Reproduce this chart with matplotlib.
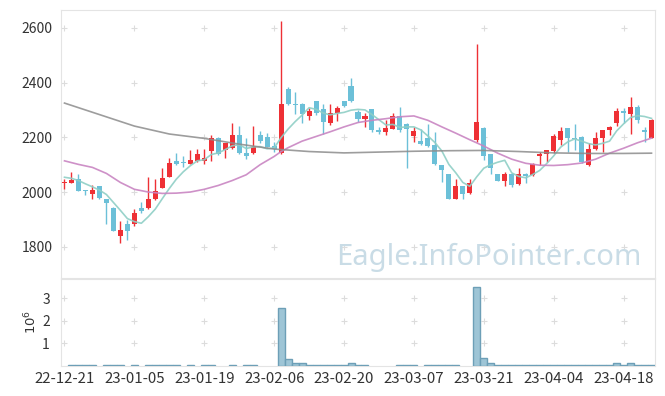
import numpy as np
import matplotlib.pyplot as plt

plt.rcParams['font.family'] = ['Noto Sans CJK KR', 'DejaVu Sans']

# daily prices (trading days 22-12-21 .. 23-04-24)
opens = [2032, 2034, 2048, 2008, 1993, 2022, 1975, 1942, 1841, 1883,
         1882, 1941, 1941, 1975, 2016, 2056, 2114, 2110, 2104, 2115,
         2114, 2151, 2198, 2155, 2160, 2209, 2144, 2142, 2209, 2202,
         2169, 2142, 2377, 2322, 2321, 2279, 2333, 2304, 2252, 2287,
         2333, 2386, 2292, 2268, 2304, 2227, 2220, 2232, 2278, 2249,
         2206, 2187, 2197, 2172, 2099, 2066, 1975, 2022, 1996, 2191,
         2233, 2139, 2066, 2041, 2066, 2029, 2066, 2063, 2130, 2139,
         2150, 2191, 2233, 2199, 2200, 2097, 2158, 2197, 2225, 2254,
         2297, 2286, 2310, 2227, 2199]
highs = [2047, 2072, 2065, 2008, 2026, 2022, 1975, 1944, 1895, 1898,
         1937, 1962, 2056, 2047, 2087, 2124, 2142, 2132, 2154, 2156,
         2156, 2208, 2200, 2180, 2252, 2242, 2199, 2242, 2223, 2215,
         2184, 2626, 2382, 2365, 2325, 2306, 2334, 2321, 2321, 2316,
         2334, 2416, 2300, 2288, 2305, 2237, 2264, 2290, 2310, 2252,
         2237, 2230, 2248, 2221, 2100, 2067, 2047, 2022, 2047, 2540,
         2236, 2140, 2067, 2073, 2069, 2087, 2069, 2105, 2148, 2155,
         2211, 2239, 2234, 2248, 2203, 2178, 2219, 2228, 2242, 2306,
         2306, 2347, 2317, 2239, 2265]
lows = [2011, 2032, 2002, 1990, 1974, 1976, 1883, 1857, 1813, 1825,
        1876, 1925, 1937, 1971, 2014, 2054, 2097, 2090, 2102, 2111,
        2103, 2113, 2137, 2124, 2158, 2139, 2120, 2139, 2178, 2164,
        2148, 2138, 2318, 2284, 2252, 2263, 2282, 2212, 2245, 2260,
        2312, 2328, 2255, 2239, 2221, 2211, 2210, 2230, 2221, 2087,
        2182, 2173, 2166, 2100, 2035, 1973, 1973, 1974, 1992, 2181,
        2117, 2066, 2040, 2022, 2018, 2026, 2034, 2059, 2099, 2111,
        2142, 2172, 2148, 2154, 2105, 2096, 2154, 2148, 2209, 2242,
        2254, 2211, 2252, 2184, 2197]
closes = [2038, 2044, 2004, 2002, 2009, 1978, 1961, 1858, 1861, 1859,
          1922, 1932, 1974, 2004, 2050, 2105, 2103, 2106, 2117, 2139,
          2124, 2198, 2138, 2178, 2209, 2142, 2130, 2166, 2185, 2166,
          2158, 2321, 2321, 2319, 2284, 2297, 2288, 2255, 2288, 2306,
          2316, 2331, 2267, 2278, 2225, 2220, 2234, 2278, 2225, 2232,
          2223, 2176, 2169, 2103, 2081, 1975, 2022, 1993, 2032, 2257,
          2130, 2087, 2041, 2066, 2026, 2066, 2059, 2103, 2139, 2154,
          2203, 2223, 2197, 2194, 2111, 2158, 2199, 2227, 2236, 2297,
          2288, 2310, 2262, 2221, 2264]

# volume in units of 10^6
volume = [0, .03, .03, .03, .03, 0, .06, .03, .03, 0,
          .03, 0, .03, .03, .03, .03, .03, 0, .03, 0,
          .03, .03, 0, 0, .06, 0, .03, .06, 0, 0,
          0, 2.55, .32, .12, .12, .06, .03, .06, .03, .03,
          .03, .15, .03, .03, 0, 0, 0, 0, .03, .03,
          .03, 0, .03, .03, .03, .03, .03, 0, 0, 3.5,
          .37, .15, .06, .06, .03, .03, .03, .03, .06, .06,
          .06, .06, .03, .03, .06, .03, .03, .03, .03, .15,
          .06, .15, .06, .06, .06]

# moving averages
ma5 = [2054, 2050, 2042, 2030, 2019, 2007, 1991, 1962, 1933, 1903,
       1892, 1886, 1910, 1938, 1976, 2013, 2047, 2074, 2096, 2114,
       2118, 2137, 2143, 2155, 2169, 2173, 2159, 2165, 2166, 2158,
       2161, 2199, 2230, 2257, 2281, 2308, 2302, 2289, 2282, 2287,
       2291, 2299, 2302, 2300, 2283, 2264, 2245, 2247, 2236, 2238,
       2238, 2227, 2205, 2181, 2150, 2101, 2070, 2035, 2021, 2056,
       2087, 2100, 2109, 2116, 2070, 2057, 2052, 2064, 2079, 2104,
       2132, 2164, 2183, 2194, 2186, 2177, 2172, 2178, 2186, 2223,
       2249, 2272, 2279, 2276, 2269]
ma20_x = [0, 2, 4, 6, 8, 10, 12, 14, 16, 18, 20, 22, 24, 26, 28, 30, 31,
          32, 34, 36, 38, 40, 42, 44, 46, 48, 50, 52, 54, 56, 58, 60, 62,
          64, 66, 68, 70, 72, 74, 76, 78, 80, 82, 84]
ma20 = [2114, 2101, 2090, 2068, 2035, 2010, 2000, 1995, 1996, 2000, 2010,
        2024, 2042, 2063, 2100, 2130, 2148, 2162, 2186, 2203, 2220, 2238,
        2254, 2262, 2268, 2275, 2278, 2262, 2238, 2215, 2191, 2168, 2142,
        2120, 2105, 2098, 2097, 2100, 2106, 2120, 2142, 2160, 2180, 2197]
ma60_x = [0, 5, 10, 15, 20, 25, 30, 35, 40, 45, 50, 55, 60, 65, 70, 75, 80, 84]
ma60 = [2325, 2283, 2241, 2212, 2196, 2175, 2157, 2148, 2143, 2146, 2149,
        2151, 2152, 2148, 2143, 2141, 2141, 2142]

tick_labels = ['22-12-21', '23-01-05', '23-01-19', '23-02-06', '23-02-20',
               '23-03-07', '23-03-21', '23-04-04', '23-04-18']

up_color = '#ee3035'
down_color = '#6cc0d8'
grid_color = '#dcdcdc'
spine_color = '#e4e4e4'

x = np.arange(len(closes))
o = np.array(opens)
c = np.array(closes)
up = c >= o
colors = np.where(up, up_color, down_color)
body_bottom = np.minimum(o, c)
body_height = np.maximum(np.abs(c - o), 2.5)

fig = plt.figure(figsize=(6.65, 3.96), dpi=100)
ax = fig.add_axes([61 / 665, 1 - 278 / 396, 594 / 665, 268 / 396])
axv = fig.add_axes([61 / 665, 1 - 366 / 396, 594 / 665, 87.5 / 396], sharex=ax)

# candles
ax.vlines(x, lows, highs, colors=colors, linewidth=1, zorder=2)
ax.bar(x, body_height, bottom=body_bottom, width=0.72, color=colors,
       linewidth=0, zorder=3)

# moving averages
ax.plot(x, ma5, color='#8fcfc6', linewidth=1.2, alpha=0.9, zorder=4)
ax.plot(ma20_x, ma20, color='#c985c2', linewidth=1.2, alpha=0.9, zorder=4)
ax.plot(ma60_x, ma60, color='#8c8c8c', linewidth=1.2, alpha=0.85, zorder=4)

ax.set_xlim(-0.5, 84.5)
ax.set_ylim(1686, 2665)
ax.set_yticks([1800, 2000, 2200, 2400, 2600])

ax.text(0.978, 0.075, 'Eagle.InfoPointer.com', transform=ax.transAxes,
        ha='right', va='center', fontsize=21, color='#c9dce6',
        family=['Noto Sans', 'DejaVu Sans'], zorder=1)

# volume
vol = np.array(volume)
has_vol = vol > 0
axv.bar(x[has_vol], vol[has_vol], width=1.0, color='#9ec5d6',
        edgecolor='#6d9fb7', linewidth=1, zorder=3)
axv.set_ylim(0, 3.87)
axv.set_yticks([1, 2, 3])
axv.set_xticks(np.arange(0, 85, 10))
axv.set_xticklabels(tick_labels)
axv.text(-0.05, 0.5, r'$10^6$', transform=axv.transAxes, rotation=90,
         ha='center', va='center', fontsize=9.5, color='#333333')

# cross markers at grid intersections
xt = np.arange(0, 85, 10)
gx, gy = np.meshgrid(xt, ax.get_yticks())
ax.scatter(gx.ravel(), gy.ravel(), marker='+', s=18, color=grid_color,
           linewidths=0.8, zorder=0)
gx, gy = np.meshgrid(xt, axv.get_yticks())
axv.scatter(gx.ravel(), gy.ravel(), marker='+', s=18, color=grid_color,
            linewidths=0.8, zorder=0)

for a in (ax, axv):
    for s in a.spines.values():
        s.set_color(spine_color)
    a.tick_params(length=0, labelsize=10, colors='#333333', pad=6)
plt.setp(ax.get_xticklabels(), visible=False)
axv.tick_params(axis='x', pad=4, labelsize=10.8)
axv.tick_params(axis='y', pad=8)

fig.savefig('out.png', dpi=100)
